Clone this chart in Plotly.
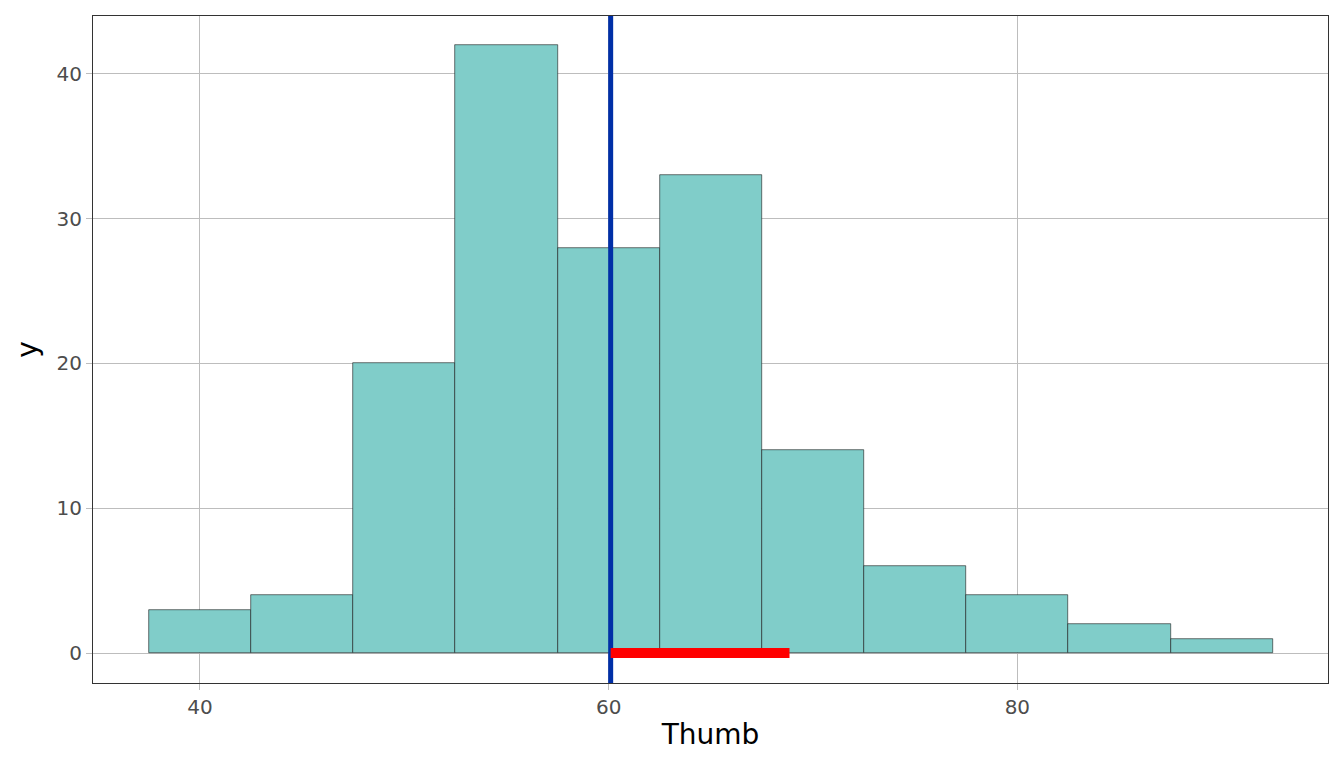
import plotly.graph_objects as go

# histogram bins (center, width 5) and counts
bin_centers = [40, 45, 50, 55, 60, 65, 70, 75, 80, 85, 90]
counts = [3, 4, 20, 42, 28, 33, 14, 6, 4, 2, 1]
bin_width = 5

mean_thumb = 60.1
seg_start = 60.1
seg_end = 68.85

fig = go.Figure()
fig.add_trace(go.Bar(
    x=bin_centers,
    y=counts,
    width=[bin_width] * len(bin_centers),
    marker=dict(color="#80CDC9", line=dict(color="#1a1a1a", width=0.6)),
    showlegend=False,
))
fig.add_trace(go.Scatter(
    x=[mean_thumb, mean_thumb],
    y=[-10, 60],
    mode="lines",
    line=dict(color="#002FA7", width=5),
    showlegend=False,
))
fig.add_trace(go.Scatter(
    x=[seg_start, seg_end],
    y=[0, 0],
    mode="lines",
    line=dict(color="#FF0000", width=10),
    showlegend=False,
))

# page body has an 8px margin, so the figure is sized to fit inside it
fig.update_layout(
    width=1328, height=752,
    template="none",
    font_family="DejaVu Sans",
    paper_bgcolor="white",
    plot_bgcolor="white",
    margin=dict(l=85, r=8, t=8, b=77),
    bargap=0,
)
fig.update_xaxes(
    range=[34.77, 95.2],
    tickvals=[40, 60, 80],
    showgrid=True, gridcolor="#bdbdbd", gridwidth=1,
    zeroline=False,
    showline=True, linecolor="#333333", linewidth=1, mirror=True,
    ticks="outside", ticklen=6, tickcolor="#bdbdbd",
    tickfont=dict(size=20, color="#4d4d4d"),
    title=dict(text="Thumb", font=dict(size=28, color="black"), standoff=6),
)
fig.update_yaxes(
    range=[-2.07, 44.0],
    tickvals=[0, 10, 20, 30, 40],
    showgrid=True, gridcolor="#bdbdbd", gridwidth=1,
    zeroline=False,
    showline=True, linecolor="#333333", linewidth=1, mirror=True,
    ticks="outside", ticklen=6, tickcolor="#bdbdbd",
    tickfont=dict(size=20, color="#4d4d4d"),
    title=dict(text="y", font=dict(size=28, color="black"), standoff=10),
)

fig.write_html("out.html")
